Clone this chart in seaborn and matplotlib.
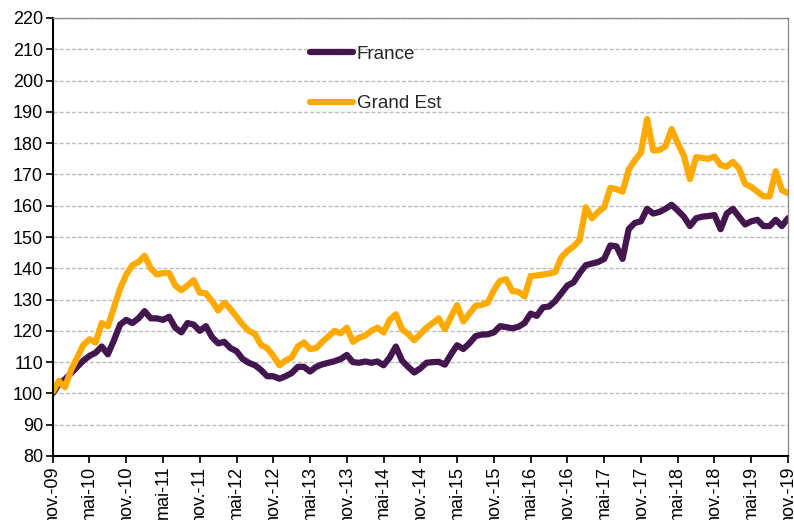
import matplotlib
matplotlib.use("Agg")
import matplotlib.pyplot as plt
import pandas as pd
import seaborn as sns

# Indice mensuel (base 100 = nov. 2009), nov.-09 -> nov.-19
france = [
    100, 103, 104.5, 106.5, 108.5, 110.5, 112, 113, 115, 112.5,
    117, 122, 123.5, 122.5, 124, 126.3, 124, 124, 123.5, 124.5,
    121, 119.5, 122.5, 122, 120, 121.5, 118, 116, 116.5, 114.5,
    113.5, 111, 109.8, 109, 107.5, 105.5, 105.5, 104.7, 105.5, 106.5,
    108.5, 108.5, 107, 108.5, 109.3, 109.8, 110.3, 111, 112.3, 110,
    109.8, 110.2, 109.8, 110.2, 109, 111.5, 115, 110.5, 108.5, 106.7,
    108, 109.8, 110, 110.1, 109.2, 112.5, 115.4, 114.2, 116, 118.3,
    118.8, 118.9, 119.5, 121.5, 121.2, 120.8, 121.3, 122.5, 125.5, 124.8,
    127.5, 127.8, 129.5, 132, 134.5, 135.5, 138.5, 141, 141.5, 142,
    143, 147.3, 147, 143, 152.5, 154.5, 155, 159, 157.5, 158,
    159, 160.3, 158.5, 156.5, 153.5, 156, 156.5, 156.7, 157, 152.5,
    157.5, 159, 156.5, 154, 155, 155.5, 153.5, 153.5, 155.5, 153.5,
    156,
]
grand_est = [
    100.5, 104, 102, 107.5, 111.5, 115.5, 117.3, 116.3, 122.5, 121.5,
    127.5, 133.5, 138, 141, 142, 144, 140, 138, 138.5, 138.5,
    134.5, 133, 134.5, 136.2, 132.2, 132, 129.5, 126.5, 129, 127,
    124.5, 122, 120, 119, 115.5, 114.5, 112, 109, 110.5, 111.5,
    115, 116.3, 114.2, 114.5, 116.5, 118.2, 120, 119.2, 121, 116.5,
    117.8, 118.5, 120, 121, 119.5, 123.5, 125.3, 120.5, 119, 117,
    119, 121, 122.5, 124, 120.5, 124.5, 128.2, 123, 125.5, 128,
    128.3, 129, 133, 136, 136.5, 132.7, 132.5, 131, 137.5, 137.7,
    138, 138.3, 138.8, 143.5, 145.5, 147, 149, 159.5, 156, 158,
    159.5, 165.7, 165.3, 164.5, 171.5, 174.5, 177, 187.7, 177.7, 177.8,
    179, 184.5, 180, 176, 168.5, 175.5, 175.3, 175, 175.7, 173,
    172.5, 174, 172, 167, 166, 164.5, 163, 163, 171, 165,
    164,
]
tick_labels = [
    "nov.-09", "mai-10", "nov.-10", "mai-11", "nov.-11", "mai-12", "nov.-12",
    "mai-13", "nov.-13", "mai-14", "nov.-14", "mai-15", "nov.-15", "mai-16",
    "nov.-16", "mai-17", "nov.-17", "mai-18", "nov.-18", "mai-19", "nov.-19",
]

df = pd.DataFrame({"mois": range(len(france)), "France": france, "Grand Est": grand_est})
df = df.melt(id_vars="mois", var_name="zone", value_name="indice")

sns.set_theme(style="white")
plt.rcParams["font.family"] = ["Liberation Sans", "DejaVu Sans"]

fig = plt.figure(figsize=(7.94, 5.2), dpi=100)
ax = fig.add_axes([52.7 / 794, 1 - 456 / 520, (788 - 52.7) / 794, (456 - 18) / 520])

sns.lineplot(
    data=df, x="mois", y="indice", hue="zone",
    palette={"France": "#44164F", "Grand Est": "#FFAA00"},
    linewidth=4.5, ax=ax,
)

ax.set_xlim(0, len(france) - 1)
ax.set_ylim(80, 220)
ax.set_yticks(range(80, 221, 10))
ax.set_xticks(range(0, len(france), 6))
# les étiquettes sont coupées en bas, comme sur l'original
ax.set_xticklabels(tick_labels, rotation=90)
ax.set_xlabel("")
ax.set_ylabel("")

# grille pointillée horizontale
ax.yaxis.grid(True, linestyle=(0, (2.9, 1.5)), color="#BBBBBB", linewidth=1)
ax.set_axisbelow(True)

for side in ["left", "bottom"]:
    ax.spines[side].set_color("black")
    ax.spines[side].set_linewidth(1.5)
for side in ["top", "right"]:
    ax.spines[side].set_color("#8C8C8C")
    ax.spines[side].set_linewidth(1)

ax.tick_params(axis="both", direction="out", length=5, width=1.2, color="black",
               labelsize=13, labelcolor="black", pad=2)
ax.tick_params(axis="x", bottom=True)
ax.tick_params(axis="y", left=True)

handles, labels = ax.get_legend_handles_labels()
ax.legend(handles, labels, frameon=False, loc="upper left", bbox_to_anchor=(0.327, 0.975),
          handlelength=2.3, handletextpad=0.2, labelspacing=1.72, fontsize=13.5)

fig.savefig("out.png", dpi=100)
